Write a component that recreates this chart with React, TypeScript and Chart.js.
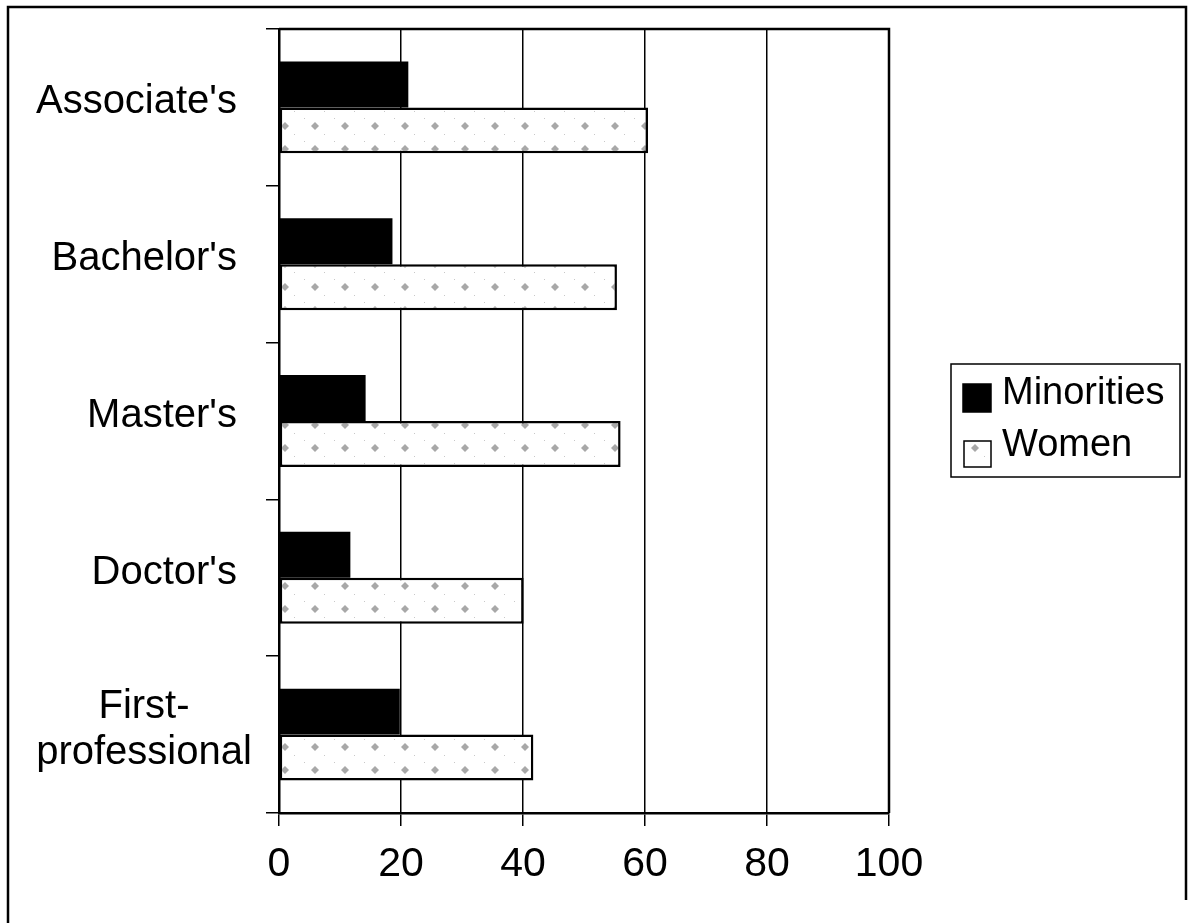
import React, { useEffect, useRef } from 'react';
import { Chart, registerables } from 'chart.js';

Chart.register(...registerables);

const categories: (string | string[])[] = ["Associate's", "Bachelor's", "Master's", "Doctor's", ['First-', 'professional']];
const seriesNames = ['Minorities', 'Women'];
const minorities = [21.2, 18.6, 14.2, 11.7, 19.8];
const women = [60.5, 55.4, 56.0, 40.1, 41.7];
const xTickValues = [0, 20, 40, 60, 80, 100];

const FONT = '"Liberation Sans", Arial, Helvetica, sans-serif';

function makePattern(): CanvasPattern | string {
  const c = document.createElement('canvas');
  c.width = 30;
  c.height = 23;
  const g = c.getContext('2d');
  if (!g) return '#ffffff';
  g.fillStyle = '#ffffff';
  g.fillRect(0, 0, 30, 23);
  g.fillStyle = '#a8a8a8';
  g.beginPath();
  g.moveTo(15, 7);
  g.lineTo(19, 11);
  g.lineTo(15, 15);
  g.lineTo(11, 11);
  g.closePath();
  g.fill();
  g.fillStyle = '#c8c8c8';
  g.fillRect(4, 3, 1, 1);
  g.fillRect(24, 19, 1, 1);
  const p = g.createPattern(c, 'repeat');
  return p || '#ffffff';
}

const decorPlugin = {
  id: 'decor',
  afterDraw(chart: any) {
    const { ctx, chartArea, scales } = chart;
    ctx.save();
    // outer frame
    ctx.strokeStyle = '#000';
    ctx.lineWidth = 2.5;
    ctx.beginPath();
    ctx.moveTo(8, 923);
    ctx.lineTo(8, 7);
    ctx.lineTo(1186, 7);
    ctx.lineTo(1186, 900);
    ctx.stroke();

    // plot frame top & right
    ctx.lineWidth = 2.5;
    ctx.beginPath();
    ctx.moveTo(chartArea.left, chartArea.top);
    ctx.lineTo(chartArea.right, chartArea.top);
    ctx.lineTo(chartArea.right, chartArea.bottom);
    ctx.stroke();

    // category labels
    const yScale = scales.y;
    ctx.fillStyle = '#000';
    ctx.font = '40px ' + FONT;
    ctx.textBaseline = 'middle';
    categories.forEach((lab, i) => {
      const yc = yScale.getPixelForValue(i) - 5;
      const lines = Array.isArray(lab) ? lab : [lab];
      if (lines.length === 1) {
        ctx.textAlign = 'right';
        ctx.fillText(lines[0], 237, yc);
      } else {
        ctx.textAlign = 'center';
        const lh = 46;
        lines.forEach((l, j) => {
          ctx.fillText(l, 144, yc + (j - (lines.length - 1) / 2) * lh);
        });
      }
    });

    // legend
    const lx = 951, ly = 364, lw = 229, lh2 = 113;
    ctx.fillStyle = '#fff';
    ctx.fillRect(lx, ly, lw, lh2);
    ctx.strokeStyle = '#000';
    ctx.lineWidth = 1.5;
    ctx.strokeRect(lx, ly, lw, lh2);
    const ds = chart.data.datasets;
    const items = [
      { box: [963, 384, 28, 28], textY: 394 },
      { box: [964, 441, 27, 26], textY: 446 },
    ];
    ctx.font = '38px ' + FONT;
    ctx.textAlign = 'left';
    ctx.textBaseline = 'middle';
    items.forEach((it, i) => {
      const [bx, by, bw, bh] = it.box;
      ctx.fillStyle = ds[i].backgroundColor;
      ctx.fillRect(bx, by, bw, bh);
      ctx.strokeStyle = '#000';
      ctx.lineWidth = 1.5;
      ctx.strokeRect(bx, by, bw, bh);
      ctx.fillStyle = '#000';
      ctx.fillText(ds[i].label, 1002, it.textY);
    });
    ctx.restore();
  },
};

export default function App() {
  const ref = useRef<HTMLCanvasElement | null>(null);
  useEffect(() => {
    const canvas = ref.current;
    if (!canvas) return;
    document.body.style.margin = '0';
    const pattern = makePattern();
    const chart = new Chart(canvas, {
      type: 'bar',
      data: {
        labels: categories as any,
        datasets: [
          {
            label: seriesNames[0],
            data: minorities,
            backgroundColor: '#000000',
            borderColor: '#000000',
            borderWidth: 0,
            categoryPercentage: 0.586,
            barPercentage: 1,
          },
          {
            label: seriesNames[1],
            data: women,
            backgroundColor: pattern as any,
            borderColor: '#000000',
            borderWidth: 2.5,
            borderSkipped: false,
            categoryPercentage: 0.586,
            barPercentage: 1,
          },
        ],
      },
      options: {
        indexAxis: 'y',
        responsive: false,
        animation: false,
        devicePixelRatio: 1,
        layout: { padding: { top: 29, right: 301, left: 0, bottom: 0 } },
        plugins: {
          legend: { display: false },
          tooltip: { enabled: false },
          title: { display: false },
        },
        scales: {
          x: {
            type: 'linear',
            position: 'bottom',
            min: 0,
            max: 100,
            afterBuildTicks: (scale: any) => {
              scale.ticks = xTickValues.map((v) => ({ value: v }));
            },
            afterFit: (scale: any) => {
              scale.height = 110;
            },
            grid: {
              color: '#000',
              lineWidth: 1.5,
              drawTicks: true,
              tickLength: 13,
              tickColor: '#000',
            },
            border: { display: true, color: '#000', width: 2.5 },
            ticks: {
              color: '#000',
              font: { family: FONT, size: 41 },
              padding: 14,
              maxRotation: 0,
            },
          },
          y: {
            type: 'category',
            position: 'left',
            offset: true,
            afterFit: (scale: any) => {
              scale.width = 279;
            },
            grid: {
              offset: true,
              drawOnChartArea: false,
              drawTicks: true,
              tickLength: 13,
              color: '#000',
              lineWidth: 1.5,
            },
            border: { display: true, color: '#000', width: 2.5 },
            ticks: { display: false },
          },
        },
      },
      plugins: [decorPlugin],
    } as any);
    return () => {
      chart.destroy();
    };
  }, []);
  return (
    <div style={{ position: 'absolute', left: 0, top: 0, width: 1190, height: 923, background: '#fff' }}>
      <canvas ref={ref} width={1190} height={923} style={{ width: 1190, height: 923, display: 'block' }} />
    </div>
  );
}
